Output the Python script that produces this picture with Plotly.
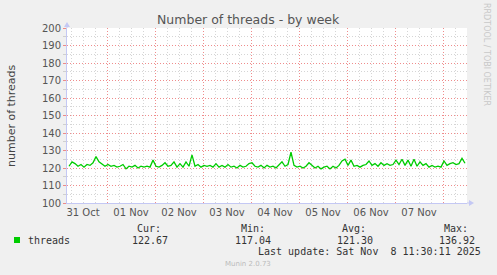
import pandas as pd
import plotly.graph_objects as go

# ---- data ----
start_time = "2025-10-31 05:00"
step = "90min"
threads = [
    121.0, 123.5, 122.5, 121.0, 122.0, 120.5, 122.0, 121.5, 123.0, 126.5,
    123.5, 122.0, 121.0, 122.0, 121.0, 121.5, 120.5, 121.0, 122.0, 119.5,
    121.0, 120.5, 121.5, 120.0, 121.0, 120.5, 121.0, 120.5, 124.5, 121.0,
    120.5, 121.5, 123.0, 121.0, 121.5, 123.5, 120.5, 122.5, 120.5, 123.5,
    121.0, 127.5, 121.0, 122.0, 120.5, 121.5, 121.0, 121.5, 120.5, 122.5,
    120.5, 121.5, 120.5, 122.0, 120.5, 121.0, 120.0, 121.5, 120.5, 121.0,
    122.5, 123.0, 121.0, 120.5, 121.5, 120.0, 121.5, 120.5, 121.0, 120.0,
    121.5, 123.5, 121.0, 122.0, 129.0, 121.5, 120.5, 121.0, 120.0, 121.0,
    123.0, 121.5, 120.0, 121.0, 119.5, 120.5, 121.0, 119.5, 121.0, 120.0,
    121.5, 124.0, 125.0, 121.5, 124.5, 121.0, 121.5, 120.5, 121.5, 122.0,
    124.0, 121.5, 122.5, 121.0, 123.0, 121.5, 122.5, 121.5, 122.0, 124.5,
    122.0, 125.0, 121.5, 124.5, 121.0, 125.0, 121.0, 123.5, 121.5, 122.5,
    120.5, 121.5, 120.5, 121.0, 120.5, 124.0, 121.5, 122.5, 123.0, 122.0,
    122.5, 125.5, 122.7,
]
tick_vals = ["2025-10-31 12:00", "2025-11-01 12:00", "2025-11-02 12:00",
             "2025-11-03 12:00", "2025-11-04 12:00", "2025-11-05 12:00",
             "2025-11-06 12:00", "2025-11-07 12:00"]
tick_text = ["31 Oct", "01 Nov", "02 Nov", "03 Nov", "04 Nov", "05 Nov",
             "06 Nov", "07 Nov"]
x_range = ["2025-10-31 04:00", "2025-11-08 12:00"]
y_range = [100, 200]
stat_labels = ["Cur:", "Min:", "Avg:", "Max:"]
stat_values = ["122.67", "117.04", "121.30", "136.92"]
series_name = "threads"
title = "Number of threads - by week"
y_title = "number of threads"
last_update = "Last update: Sat Nov  8 11:30:11 2025"
footer = "Munin 2.0.73"
side_text = "RRDTOOL / TOBI OETIKER"

times = pd.date_range(start=start_time, periods=len(threads), freq=step)

# ---- layout geometry (pixels) ----
W, H = 497, 275
L, R, T, B = 67, 30, 28, 72
PW, PH = W - L - R, H - T - B


def fx(px):
    return (px - L) / PW


def fy(py):
    return (H - B - py) / PH


GREEN = "#00CC00"
MAJ = "rgba(236,120,120,0.85)"
MIN = "rgba(185,185,185,0.6)"
AXIS = "#C4C8F4"
TXT = "#555555"
MONO = "DejaVu Sans Mono"
SANS = "DejaVu Sans"
DOTS = "1px,2px"

fig = go.Figure()
# main axis (x): gray 6-hour grid + red daily grid; x2 overlay: day labels at noon
fig.add_trace(go.Scatter(x=times, y=threads, mode="lines",
                         line=dict(color=GREEN, width=1.3),
                         name=series_name, showlegend=False))
fig.add_trace(go.Scatter(x=times, y=threads, mode="markers", xaxis="x2",
                         marker=dict(opacity=0, size=1), hoverinfo="skip",
                         showlegend=False))

fig.update_layout(
    width=W, height=H,
    margin=dict(l=L, r=R, t=T, b=B, pad=0),
    paper_bgcolor="#F0F0F0",
    plot_bgcolor="#FFFFFF",
    showlegend=False,
    xaxis=dict(
        type="date", range=x_range,
        tickmode="linear", tick0="2025-11-01", dtick=86400000,
        showticklabels=False, ticks="",
        showgrid=True, gridcolor=MAJ, griddash=DOTS, gridwidth=1,
        zeroline=False,
        showline=True, linecolor=AXIS, linewidth=1,
        minor=dict(tickmode="linear", tick0="2025-11-01", dtick=6 * 3600000,
                   showgrid=True, gridcolor=MIN, griddash=DOTS, gridwidth=1,
                   ticks=""),
    ),
    xaxis2=dict(
        type="date", range=x_range, overlaying="x", side="bottom",
        anchor="y",
        tickmode="array", tickvals=tick_vals, ticktext=tick_text,
        showgrid=False, ticks="", showline=False, zeroline=False,
        tickfont=dict(family=SANS, size=10, color=TXT),
        ticklabelstandoff=2,
    ),
    yaxis=dict(
        range=y_range, dtick=10, tick0=100,
        showgrid=True, gridcolor=MAJ, griddash=DOTS, gridwidth=1,
        zeroline=False, showline=True, linecolor=AXIS, linewidth=1,
        ticks="outside", ticklen=3, tickcolor=MAJ,
        minor=dict(dtick=5, showgrid=True, gridcolor=MIN, griddash=DOTS,
                   ticks="outside", ticklen=3, tickcolor=MIN),
        tickfont=dict(family=SANS, size=10, color=TXT),
    ),
)

ann = []
ann.append(dict(text=title, x=fx(248.5), y=fy(19), xref="paper", yref="paper",
                xanchor="center", yanchor="middle", showarrow=False,
                font=dict(family=SANS, size=12.5, color="#555555")))
ann.append(dict(text=y_title, x=fx(11), y=fy(115), xref="paper", yref="paper",
                xanchor="center", yanchor="middle", showarrow=False,
                textangle=-90, font=dict(family=SANS, size=11, color="#444444")))
ann.append(dict(text=side_text, x=fx(487), y=fy(54), xref="paper", yref="paper",
                xanchor="center", yanchor="middle", showarrow=False,
                textangle=90, font=dict(family=SANS, size=8, color="#C8C8C8")))
ann.append(dict(text=series_name, x=fx(26), y=fy(240), xref="paper", yref="paper",
                xanchor="left", yanchor="middle", showarrow=False,
                font=dict(family=MONO, size=10, color="#333333")))
label_right = [163, 267, 368, 470]
value_right = [170, 273, 375, 477]
for lab, val, lr, vr in zip(stat_labels, stat_values, label_right, value_right):
    ann.append(dict(text=lab, x=fx(lr), y=fy(228.5), xref="paper", yref="paper",
                    xanchor="right", yanchor="middle", showarrow=False,
                    font=dict(family=MONO, size=10, color="#333333")))
    ann.append(dict(text=val, x=fx(vr), y=fy(240), xref="paper", yref="paper",
                    xanchor="right", yanchor="middle", showarrow=False,
                    font=dict(family=MONO, size=10, color="#333333")))
ann.append(dict(text=last_update, x=fx(483), y=fy(251.5), xref="paper", yref="paper",
                xanchor="right", yanchor="middle", showarrow=False,
                font=dict(family=MONO, size=10, color="#333333")))
ann.append(dict(text=footer, x=fx(248), y=fy(264), xref="paper", yref="paper",
                xanchor="center", yanchor="middle", showarrow=False,
                font=dict(family=SANS, size=7, color="#BBBBBB")))
fig.update_layout(annotations=ann)

shapes = []
# legend swatch
shapes.append(dict(type="rect", xref="paper", yref="paper",
                   x0=fx(14), x1=fx(20), y0=fy(243), y1=fy(237),
                   fillcolor=GREEN, line=dict(width=0)))
# axis extensions and arrows
shapes.append(dict(type="line", xref="paper", yref="paper",
                   x0=fx(467), x1=fx(470), y0=fy(203), y1=fy(203),
                   line=dict(color=AXIS, width=1)))
shapes.append(dict(type="line", xref="paper", yref="paper",
                   x0=fx(67), x1=fx(67), y0=fy(28), y1=fy(25),
                   line=dict(color=AXIS, width=1)))
shapes.append(dict(type="path", xref="paper", yref="paper",
                   path="M {} {} L {} {} L {} {} Z".format(
                       fx(469), fy(200), fx(474), fy(203), fx(469), fy(206)),
                   fillcolor=AXIS, line=dict(width=0)))
shapes.append(dict(type="path", xref="paper", yref="paper",
                   path="M {} {} L {} {} L {} {} Z".format(
                       fx(64), fy(27), fx(67), fy(22), fx(70), fy(27)),
                   fillcolor=AXIS, line=dict(width=0)))
fig.update_layout(shapes=shapes)

fig.write_html("out.html")
